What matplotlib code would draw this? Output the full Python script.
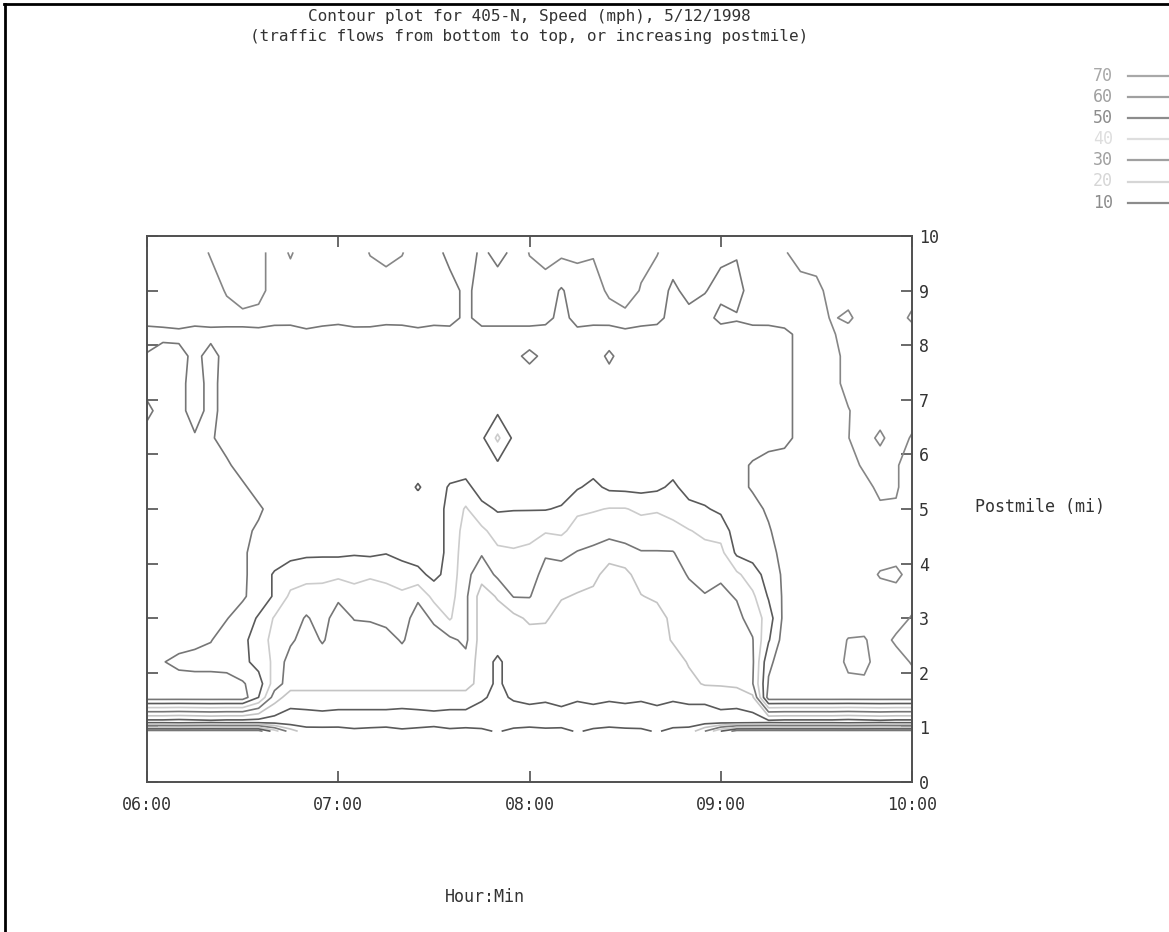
import numpy as np
import matplotlib
matplotlib.use("Agg")
import matplotlib.pyplot as plt
from matplotlib.lines import Line2D

# ---------------- data ----------------
# time axis: minutes after 06:00 (5-minute detector samples)
minutes = [0, 5, 10, 15, 20, 25, 30, 35, 40, 45, 50, 55, 60, 65, 70, 75, 80, 85, 90, 95,
           100, 105, 110, 115, 120, 125, 130, 135, 140, 145, 150, 155, 160, 165, 170, 175,
           180, 185, 190, 195, 200, 205, 210, 215, 220, 225, 230, 235, 240]
# detector postmiles (rows of the speed table)
postmile = [0.93, 1.1, 1.55, 1.8, 2.2, 2.6, 3.0, 3.4, 3.8, 4.2, 4.6, 5.0, 5.4, 5.8,
            6.3, 6.8, 7.3, 7.8, 8.2, 8.5, 9.0, 9.7]

# speed (mph) per postmile row, one value per time sample
speed_pm0_93 = [65,65,65,65,65,65,65,65,45,25,14,13,14,12,13,14,12,13,14,12,13,12,9,13,14,12,13,9,12,14,13,12,9,13,14,30,50,65,65,65,65,65,65,65,65,65,65,65,65]
speed_pm1_10 = [5,5,4,5,6,5,5,5,5,4,5,6,5,5,5,5,4,5,6,5,5,5,5,4,5,6,5,5,5,5,4,5,6,5,5,5,5,4,5,6,5,5,5,5,4,5,6,5,5]
speed_pm1_55 = [65,65,65,65,65,65,65,50,25,15,15,15,15,15,15,15,15,15,15,15,15,11,8,11,12,11,13,11,12,11,12,11,12,11,12,12,15,15,18,65,65,65,65,65,65,65,65,65,65]
speed_pm1_80 = [65,65,65,65,65,65,61,55,35,25,25,25,25,25,25,25,25,25,25,25,25,15,8,15,15,15,15,15,15,15,15,15,15,15,17,21,21,22,29.5,61,65,65,65,65,68,68,65,65,65]
speed_pm2_20 = [65,60.5,57,56,56,55,53,46,38,25,25,25,25,25,25,25,25,25,25,25,27,15,8,15,15,15,15,15,15,15,15,15,15,15,21,23,23,24,28.5,58,65,65,65,65,72,73,65,65,71]
speed_pm2_60 = [65,65,65,63,60.5,55,52,46,36,32,25,31,25,25,25,26,31,25,25,28,32,15,15,15,15,15,15,15,15,15,15,15,15,21,23,25,25,26,29.5,49,65,65,65,65,70.5,71,65,72,74]
speed_pm3_00 = [65,65,65,65,65,60.5,55,49,39,35,29,34,25,30.5,31,33,35,25,32,41,32,15,15,17,22,21.5,15,15,15,15,15,15,15,23,25.5,27,26.5,28,33,45,63,65,65,65,65,65,65,65,71]
speed_pm3_40 = [65,65,65,65,65,65,61.5,55,49,38,36,37,32,36,36,37,38,32,43,44,32,15,21,30.5,30.5,24,21,19,17,15,15,19.5,22,25,28,29.5,28.5,30.5,38,51,62,65,65,65,65,65,65,65,65]
speed_pm3_80 = [65,65,65,65,65,65,62,55,49,45,43,42,42,43,41,42,45,47,53,46,33,24,32,34,34,27,26,25,23.5,15,17,25,26,27.5,30.5,33,31,38,45.5,54,62,65,65,65,65,65,71,73,65]
speed_pm4_20 = [65,65,65,65,65,65,62,55,55,53,52,52,52,51,52,50.5,53,55,55,47,34,31,38,39,38,31,32.5,29.5,28,25,27,29.5,29.5,29.5,35,37,37,52,54,57,63,65,65,65,65,65,65,65,65]
speed_pm4_60 = [65,65,65,65,65,65,63,58,55,55,55,55,55,55,55,55,55,55,55,47,36,38,44,44,43,41,42,36,34,33,34,35,35,37,39.5,42,44,55,57,59,65,65,65,65,65,65,65,65,65]
speed_pm5_00 = [65,65,65,65,65,65,65,62,55,55,55,55,55,55,55,55,55,55,55,47,39,47,51,50.5,50.5,50.5,49,42,41,39.5,39.5,42,41,43,47,49,52,56,57,61.5,65,65,65,65,65,66,68,69,65]
speed_pm5_40 = [65,65,65,65,65,65,62,55,55,55,55,55,55,55,55,55,55,49,55,49,47,55,55,55,55,55,55,51,47.5,52,52.5,53,52,48,54,55,55,57,61,65,65,65,65,65,65,66,73,71,65]
speed_pm5_80 = [65,65,65,65,65,62,55,55,55,55,55,55,55,55,55,55,55,55,55,55,55,55,52,55,55,55,55,55,54,55,55,55,55,54,55,55,55,57,61,65,65,65,65,65,65,72,75,71,65]
speed_pm6_30 = [65,65,65,61,61.5,55,55,55,55,55,55,55,55,55,55,55,55,55,55,55,55,52,38,52,55,55,55,55,55,55,55,55,55,55,55,55,55,55,55,55,57,63,65,65,69.8,74,68,75,69]
speed_pm6_80 = [57,65,63,56,63,56,55,55,55,55,55,55,55,55,55,55,55,55,55,55,55,55,52,55,55,55,55,55,55,55,55,55,55,55,55,55,55,55,55,55,57,63,65,65,69.5,74,75,75,75]
speed_pm7_30 = [65,65,63,56,63,56,55,55,55,55,55,55,55,55,55,55,55,55,55,55,55,55,55,55,55,55,55,55,55,55,55,55,55,55,55,55,55,55,55,55,57,63,65,67,73,75,75,75,75]
speed_pm7_80 = [61,65,64,57,64,56,55,55,55,55,55,55,55,55,55,55,55,55,55,55,55,55,55,58,62,58,55,55,55,62,55,55,55,55,55,55,55,55,55,55,57,63,65,67,73,75,75,75,75]
speed_pm8_20 = [55,57,57,55,57,55,55,56,54,55,57,55,54,56,55,53,55,56,54,55,57,55,54,56,55,53,55,56,55,54,57,55,54,56,55,53,55,56,55,54,57,63,65,69,74,75,75,75,75]
speed_pm8_50 = [65,64,66,65,64,66,66,66,65,64,66,65,64,65,66,65,64,66,65,65,57,65,66,64,65,65,55,65,64,65,66,65,64,55,57,56,63,61,64,65,65,65,66,71,68,75,75,75,68]
speed_pm9_00 = [65,65,65,65,65,71,78,74,65,65,65,65,65,65,65,65,65,65,65,65,57,65,65,65,65,65,59,65,65,72,77,69,65,58,63,60.5,57,56,65,65,65,65,67,74,75,75,75,75,75]
speed_pm9_70 = [65,65,65,65,71,76,78,74,65,71,65,65,65,65,70.5,73,70.5,65,65,56,55,62,57,62,70.5,74,72,72,71,76,78,74,70.5,65,65,65,62,61,65,65,69,75,75,75,75,75,75,75,75]

speed_rows = [speed_pm0_93, speed_pm1_10, speed_pm1_55, speed_pm1_80, speed_pm2_20,
              speed_pm2_60, speed_pm3_00, speed_pm3_40, speed_pm3_80, speed_pm4_20,
              speed_pm4_60, speed_pm5_00, speed_pm5_40, speed_pm5_80, speed_pm6_30,
              speed_pm6_80, speed_pm7_30, speed_pm7_80, speed_pm8_20, speed_pm8_50,
              speed_pm9_00, speed_pm9_70]

levels = [10, 20, 30, 40, 50, 60, 70]
time_ticks = [0, 60, 120, 180, 240]
time_labels = ["06:00", "07:00", "08:00", "09:00", "10:00"]
pm_ticks = [0, 1, 2, 3, 4, 5, 6, 7, 8, 9, 10]
pm_labels = ["0", "1", "2", "3", "4", "5", "6", "7", "8", "9", "10"]

# ---------------- style ----------------
line_colors = ['#5a5a5a', '#c4c4c4', '#767676', '#cccccc', '#5a5a5a', '#767676', '#868686']
legend_colors = ['#8c8c8c', '#d6d6d6', '#a0a0a0', '#dedede', '#8c8c8c', '#a0a0a0', '#a8a8a8']
FONT = 'DejaVu Sans Mono'
FS = 12
FS_TITLE = 11.5
TXT = '#333333'

W, H = 1169, 932
fig = plt.figure(figsize=(W / 100, H / 100), dpi=100)
fig.patch.set_facecolor('white')

x0, x1, y_top, y_bot = 147, 912, 236, 782
ax = fig.add_axes([x0 / W, 1 - y_bot / H, (x1 - x0) / W, (y_bot - y_top) / H])

Z = np.array(speed_rows, dtype=float)
ax.contour(minutes, postmile, Z, levels=levels, colors=line_colors, linewidths=1.2)

ax.set_xlim(0, 240)
ax.set_ylim(0, 10)
ax.set_xticks(time_ticks)
ax.set_xticklabels(time_labels, fontfamily=FONT, fontsize=FS, color=TXT)
ax.set_yticks(pm_ticks)
ax.yaxis.tick_right()
ax.set_yticklabels(pm_labels, fontfamily=FONT, fontsize=FS, color=TXT)
ax.tick_params(axis='x', direction='in', length=8, width=1.2, colors='#505050',
               top=True, bottom=True, pad=10, labelcolor=TXT)
ax.tick_params(axis='y', direction='in', length=8, width=1.2, colors='#505050',
               left=True, right=True, labelleft=False, labelright=True, pad=5, labelcolor=TXT)
for s in ax.spines.values():
    s.set_color('#505050')
    s.set_linewidth(1.4)

# titles and axis labels (gnuplot-like placement)
cx = (x0 + x1) / 2 / W
fig.text(cx, 1 - 21 / H, "Contour plot for 405-N, Speed (mph), 5/12/1998",
         ha='center', va='baseline', fontfamily=FONT, fontsize=FS_TITLE, color=TXT)
fig.text(cx, 1 - 41 / H, "(traffic flows from bottom to top, or increasing postmile)",
         ha='center', va='baseline', fontfamily=FONT, fontsize=FS_TITLE, color=TXT)
fig.text(485 / W, 1 - 897 / H, "Hour:Min", ha='center', va='center',
         fontfamily=FONT, fontsize=FS, color=TXT)
fig.text(975 / W, 1 - 507 / H, "Postmile (mi)", ha='left', va='center',
         fontfamily=FONT, fontsize=FS, color=TXT)

# key (top to bottom: 70 .. 10)
key_y0, key_dy = 76, 21.1
for i, lev in enumerate(levels[::-1]):
    c = legend_colors[::-1][i]
    yy = 1 - (key_y0 + i * key_dy) / H
    fig.text(1113 / W, yy, str(lev), ha='right', va='center',
             fontfamily=FONT, fontsize=FS, color=c)
    fig.add_artist(Line2D([1128 / W, 1.0], [yy, yy], color=c, lw=1.6,
                          transform=fig.transFigure))

# page frame at top and left edges
fig.add_artist(Line2D([4 / W, 1.0], [1 - 4 / H, 1 - 4 / H], color='black', lw=2,
                      transform=fig.transFigure))
fig.add_artist(Line2D([5 / W, 5 / W], [0.0, 1 - 4 / H], color='black', lw=2,
                      transform=fig.transFigure))

fig.savefig("out.png", dpi=100, facecolor='white')
